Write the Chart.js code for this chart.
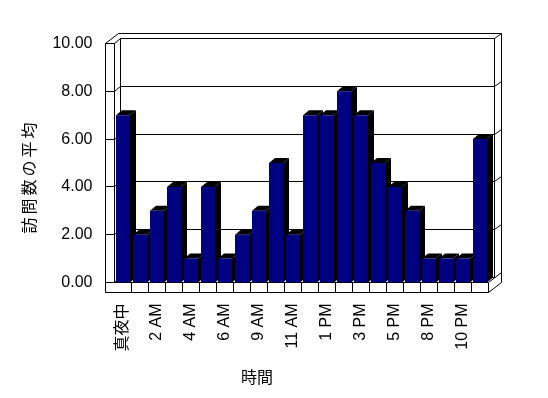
<!DOCTYPE html>
<html>
<head>
<meta charset="utf-8">
<script src="https://cdn.jsdelivr.net/npm/chart.js@4/dist/chart.umd.min.js"></script>
<style>
  html, body { margin: 0; padding: 0; background: #ffffff; }
  #wrap { width: 548px; height: 398px; position: relative; }
</style>
</head>
<body>
<div id="wrap"><canvas id="c" width="548" height="398"></canvas></div>
<script>
// ---- data ----
const categories = ['真夜中','1 AM','2 AM','3 AM','4 AM','5 AM','6 AM','8 AM','9 AM','10 AM','11 AM','正午',
                    '1 PM','2 PM','3 PM','4 PM','5 PM','7 PM','8 PM','9 PM','10 PM','11 PM'];
const visits = [7,2,3,4,1,4,1,2,3,5,2,7,7,8,7,5,4,3,1,1,1,6];
const yTicks = [0,2,4,6,8,10];
const labelEvery = 2;
const xTitle = '時間';
const yTitle = '訪問数の平均';

const FONT = "'Liberation Sans', 'Noto Sans CJK JP', sans-serif";
const CJK = "'Noto Sans CJK JP', sans-serif";
const D1 = {dx: 6, dy: -5};    // depth to back wall inner face
const D2 = {dx: 13, dy: -10};  // depth to back wall outer face

function line(ctx, pts) {
  ctx.beginPath();
  ctx.moveTo(pts[0][0], pts[0][1]);
  for (let i = 1; i < pts.length; i++) ctx.lineTo(pts[i][0], pts[i][1]);
  ctx.stroke();
}
const snap = v => Math.floor(v) + 0.5;

const frame3d = {
  id: 'frame3d',
  beforeDatasetsDraw(chart) {
    const ctx = chart.ctx, xs = chart.scales.x, ys = chart.scales.y;
    const L = snap(xs.left), R = snap(xs.right);
    const y0 = snap(ys.getPixelForValue(yTicks[0]));
    const yT = snap(ys.getPixelForValue(yTicks[yTicks.length - 1]));
    const WO = L - 9;           // outer face of left wall
    const FB = y0 + 10;         // bottom of floor slab
    ctx.save();
    ctx.fillStyle = '#ffffff';
    ctx.strokeStyle = '#000000';
    ctx.lineWidth = 1;
    ctx.fillRect(L + D1.dx, yT + D1.dy, R - L, y0 - yT);
    ctx.strokeRect(L + D1.dx, yT + D1.dy, R - L, y0 - yT);
    line(ctx, [[WO, yT], [WO + D2.dx, yT + D2.dy], [R + D2.dx, yT + D2.dy], [R + D2.dx, y0 - 0]]);
    line(ctx, [[R + D1.dx, yT + D1.dy], [R + D2.dx, yT + D2.dy]]);
    line(ctx, [[WO, FB], [WO, yT], [L, yT], [L, y0]]);
    line(ctx, [[L, yT], [L + D1.dx, yT + D1.dy]]);
    for (let i = 1; i < yTicks.length - 1; i++) {
      const g = snap(ys.getPixelForValue(yTicks[i]));
      line(ctx, [[WO, g], [L, g], [L + D1.dx, g + D1.dy], [R + D1.dx, g + D1.dy], [R + D2.dx, g + D2.dy]]);
    }
    line(ctx, [[WO, y0], [R, y0], [R, FB], [WO, FB]]);
    line(ctx, [[R, y0], [R + D2.dx, y0 + D2.dy]]);
    line(ctx, [[R, FB], [R + D2.dx, FB + D2.dy]]);
    line(ctx, [[L, y0], [L + D1.dx, y0 + D1.dy]]);
    for (let i = 1; i < categories.length; i++) {
      const xd = snap(xs.getPixelForValue(i) - (xs.getPixelForValue(1) - xs.getPixelForValue(0)) / 2);
      line(ctx, [[xd, y0], [xd, FB]]);
    }
    const meta = chart.getDatasetMeta(0);
    ctx.fillStyle = '#000000';
    meta.data.forEach(bar => {
      const x0 = bar.x - bar.width / 2, x1 = bar.x + bar.width / 2;
      const t = bar.y, b = bar.base;
      ctx.beginPath();
      ctx.moveTo(x0, t); ctx.lineTo(x1, t); ctx.lineTo(x1 + D1.dx, t + D1.dy); ctx.lineTo(x0 + D1.dx, t + D1.dy);
      ctx.closePath(); ctx.fill();
      ctx.beginPath();
      ctx.moveTo(x1, t); ctx.lineTo(x1 + D1.dx, t + D1.dy); ctx.lineTo(x1 + D1.dx, b + D1.dy); ctx.lineTo(x1, b);
      ctx.closePath(); ctx.fill();
    });
    ctx.restore();
  },
  afterDraw(chart) {
    const ctx = chart.ctx;
    ctx.save();
    ctx.fillStyle = '#000000';
    ctx.textAlign = 'center';
    ctx.textBaseline = 'middle';
    ctx.font = '16px ' + CJK;
    ctx.fillText(xTitle, 257, 377);
    ctx.translate(29, 178);
    ctx.rotate(-Math.PI / 2);
    try { ctx.letterSpacing = '3px'; } catch (e) {}
    ctx.fillText(yTitle, 1.5, 0);
    ctx.restore();
  }
};

Chart.defaults.font.family = FONT;
Chart.defaults.color = '#000000';

new Chart(document.getElementById('c'), {
  type: 'bar',
  data: {
    labels: categories,
    datasets: [{
      data: visits,
      backgroundColor: '#000080',
      borderWidth: 0,
      barPercentage: 14 / 17,
      categoryPercentage: 1.0
    }]
  },
  options: {
    responsive: false,
    animation: false,
    devicePixelRatio: 1,
    layout: { padding: { left: 0, top: 43.5, right: 59.5, bottom: 0 } },
    plugins: { legend: { display: false }, tooltip: { enabled: false } },
    scales: {
      x: {
        grid: { display: false, drawTicks: false },
        border: { display: false },
        afterFit: s => { s.height = 115.5; },
        ticks: {
          autoSkip: false,
          minRotation: 90,
          maxRotation: 90,
          padding: 21,
          font: { size: 16 },
          color: '#000000',
          callback: function (v, i) { return i % labelEvery === 0 ? categories[i] : ''; }
        }
      },
      y: {
        min: yTicks[0],
        max: yTicks[yTicks.length - 1],
        grid: { display: false, drawTicks: false },
        border: { display: false },
        afterFit: s => { s.width = 114.5; },
        afterBuildTicks: s => { s.ticks = yTicks.map(v => ({ value: v })); },
        ticks: {
          padding: 22,
          font: { size: 16 },
          color: '#000000',
          callback: v => Number(v).toFixed(2)
        }
      }
    }
  },
  plugins: [frame3d]
});
</script>
</body>
</html>
